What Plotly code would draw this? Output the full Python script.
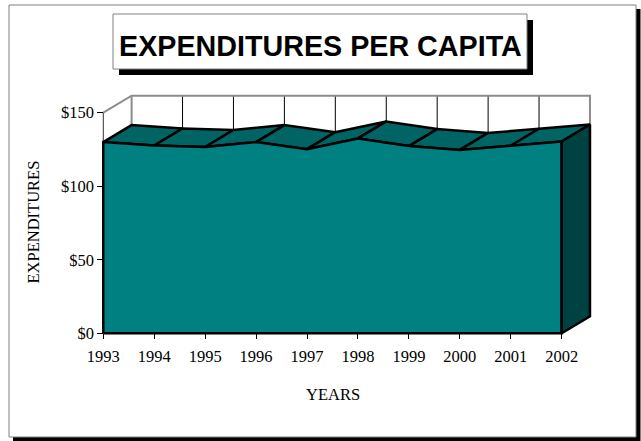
import plotly.graph_objects as go

# ---- data ----
years = [1993, 1994, 1995, 1996, 1997, 1998, 1999, 2000, 2001, 2002]
expenditures = [130.0, 127.7, 126.7, 130.0, 125.2, 132.5, 127.3, 124.7, 127.5, 130.4]
y_tick_vals = [0, 50, 100, 150]
y_tick_text = ["$0", "$50", "$100", "$150"]
title_text = "EXPENDITURES PER CAPITA"
x_title = "YEARS"
y_title = "EXPENDITURES"

# ---- page geometry ----
W, H = 641, 441
L, R, T, B = 83, 31, 89, 99          # integer margins
plot_w = W - L - R
plot_h = H - T - B

# pixel scale of the axes
PX_PER_YEAR = 50.93
PX_PER_UNIT = 1.4707
X0_PX = 103.3                        # pixel position of first category
Y0_PX = 333.3                        # pixel position of value 0

x_range = [years[0] + (L - X0_PX) / PX_PER_YEAR,
           years[0] + (W - R - X0_PX) / PX_PER_YEAR]
y_range = [(Y0_PX - (H - B)) / PX_PER_UNIT,
           (Y0_PX - T) / PX_PER_UNIT]

# depth of the 3-D extrusion in data units
DX = 28.3 / PX_PER_YEAR
DY = 17.0 / PX_PER_UNIT
WALL_TOP = y_tick_vals[-1]


def px_x(p):
    return (p - L) / plot_w


def px_y(p):
    return (H - B - p) / plot_h


FRONT = "#008080"
TOP = "#006464"
SIDE = "#004242"
EDGE = "black"
GRAY = "#8c8c8c"
LW = 2.5

fig = go.Figure()


def add_line(xs, ys, color, width):
    fig.add_trace(go.Scatter(x=xs, y=ys, mode="lines",
                             line=dict(color=color, width=width),
                             hoverinfo="skip", showlegend=False))


def add_poly(xs, ys, fill):
    fig.add_trace(go.Scatter(x=xs, y=ys, mode="lines", fill="toself",
                             fillcolor=fill,
                             line=dict(color=EDGE, width=LW),
                             hoverinfo="skip", showlegend=False))


# back wall: vertical gridlines at each category
for yr, v in zip(years[1:-1], expenditures[1:-1]):
    add_line([yr + DX, yr + DX], [v + DY, WALL_TOP + DY], "black", 1)

# wall edges (gray)
add_line([years[0], years[0] + DX, years[-1] + DX, years[-1] + DX],
         [WALL_TOP, WALL_TOP + DY, WALL_TOP + DY, expenditures[-1] + DY], GRAY, 2)
add_line([years[0] + DX, years[0] + DX],
         [WALL_TOP + DY, expenditures[0] + DY], GRAY, 2)

# value axis line at the first category
add_line([years[0], years[0]], [0, WALL_TOP], "#333333", 1)

# top surface of the area, one facet per interval
for i in range(len(years) - 1):
    x1, x2 = years[i], years[i + 1]
    v1, v2 = expenditures[i], expenditures[i + 1]
    add_poly([x1, x2, x2 + DX, x1 + DX, x1],
             [v1, v2, v2 + DY, v1 + DY, v1], TOP)

# front face
add_poly([years[0]] + years + [years[-1], years[0]],
         [0] + expenditures + [0, 0], FRONT)

# right side face
xe, ve = years[-1], expenditures[-1]
add_poly([xe, xe, xe + DX, xe + DX, xe],
         [0, ve, ve + DY, DY, 0], SIDE)

serif = "Liberation Serif"
fig.update_layout(
    width=W, height=H,
    margin=dict(l=L, r=R, t=T, b=B, autoexpand=False),
    paper_bgcolor="white", plot_bgcolor="rgba(0,0,0,0)",
    showlegend=False,
    xaxis=dict(range=x_range, anchor="free", position=px_y(Y0_PX),
               tickmode="array", tickvals=years, ticktext=[str(y) for y in years],
               ticks="outside", ticklen=5, tickcolor="black", tickwidth=1,
               ticklabelstandoff=3,
               showline=False, showgrid=False, zeroline=False,
               tickfont=dict(family=serif, size=16.5, color="black")),
    yaxis=dict(range=y_range, anchor="free", position=px_x(X0_PX),
               tickmode="array", tickvals=y_tick_vals, ticktext=y_tick_text,
               ticks="outside", ticklen=6, tickcolor="black", tickwidth=1,
               showline=False, showgrid=False, zeroline=False,
               tickfont=dict(family=serif, size=16.5, color="black")),
)

# outer frame with drop shadow, and the title box with drop shadow
shapes = [
    dict(x0=13, y0=9, x1=640.5, y1=441, fillcolor="black", line_width=0),
    dict(x0=9, y0=5, x1=636, y1=437, fillcolor="white",
         line=dict(color="#808080", width=1)),
    dict(x0=119, y0=20, x1=533, y1=75, fillcolor="black", line_width=0),
    dict(x0=113, y0=14, x1=527, y1=69, fillcolor="white",
         line=dict(color="#808080", width=1)),
]
for s in shapes:
    fig.add_shape(type="rect", xref="paper", yref="paper", layer="below",
                  x0=px_x(s["x0"]), x1=px_x(s["x1"]),
                  y0=px_y(s["y0"]), y1=px_y(s["y1"]),
                  fillcolor=s["fillcolor"],
                  line=s.get("line", dict(width=0)))

fig.add_annotation(x=px_x(320.5), y=px_y(45.5), xref="paper", yref="paper",
                   text=title_text, showarrow=False,
                   xanchor="center", yanchor="middle",
                   font=dict(family="Liberation Sans", size=28.7, color="black",
                             weight="bold"))
fig.add_annotation(x=px_x(333), y=px_y(394), xref="paper", yref="paper",
                   text=x_title, showarrow=False,
                   xanchor="center", yanchor="middle",
                   font=dict(family=serif, size=16.5, color="black"))
fig.add_annotation(x=px_x(33), y=px_y(222.5), xref="paper", yref="paper",
                   text=y_title, showarrow=False, textangle=-90,
                   xanchor="center", yanchor="middle",
                   font=dict(family=serif, size=16.5, color="black"))

fig.write_html("out.html")
